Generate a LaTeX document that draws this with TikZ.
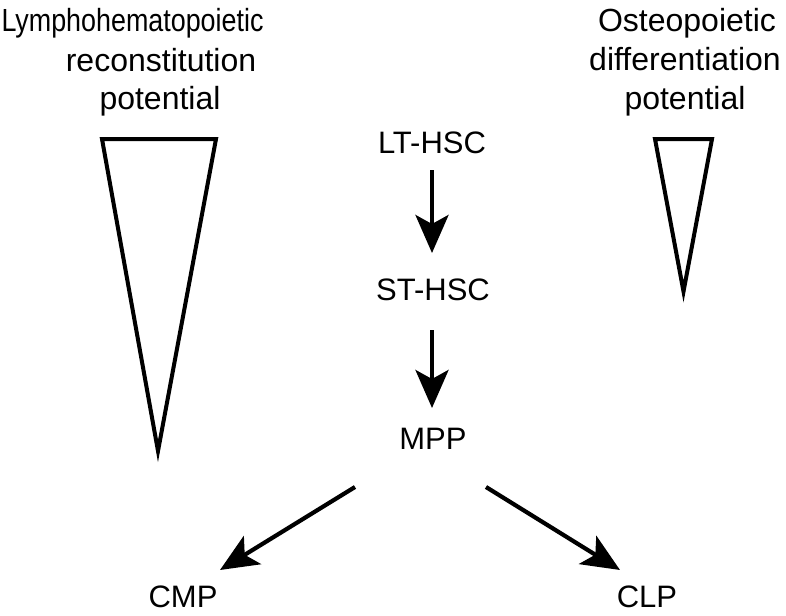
\documentclass[tikz,border=0pt]{standalone}
\usepackage{fontspec}
\setmainfont{Liberation Sans}
\usetikzlibrary{arrows.meta,calc}
\tikzset{
  lbl/.style={anchor=base,inner sep=0pt,font=\fontsize{31}{36}\selectfont},
  ttl/.style={anchor=base,inner sep=0pt,font=\fontsize{32}{38}\selectfont},
  arr/.style={line width=4.2pt,-{Stealth[length=38pt,width=33pt,inset=9pt]}},
  tri/.style={line width=4pt,line join=miter}
}
\begin{document}
\begin{tikzpicture}[x=1pt,y=-1pt]
\useasboundingbox (0,0) rectangle (786,615);
% titles
\node[ttl] (t1a) at (132.5,32) {\scalebox{0.84}[1]{Lymphohematopoietic}};
\node[ttl] (t1b) at (161,72) {reconstitution};
\node[ttl] (t1c) at (160,110) {potential};
\node[ttl] (t2a) at (687,32) {Osteopoietic};
\node[ttl] (t2b) at (685,71) {differentiation};
\node[ttl] (t2c) at (685,110) {potential};
% triangles
\draw[tri] (102,139) -- (216,139) -- (158,451) -- cycle;
\draw[tri] (655,139) -- (712,139) -- (683.5,291.5) -- cycle;
% cell labels
\node[lbl] (lt) at (432,153) {LT-HSC};
\node[lbl] (st) at (433,300) {ST-HSC};
\node[lbl] (mpp) at (433,449) {MPP};
\node[lbl] (cmp) at (183,607) {CMP};
\node[lbl] (clp) at (647,607) {CLP};
% arrows
\draw[arr] ($(lt.base)+(0,17)$) -- ($(st.base)+(-1,-47)$);
\draw[arr] ($(st.base)+(-1,30)$) -- ($(mpp.base)+(-1,-41)$);
\draw[arr] ($(mpp.base)+(-78,38)$) -- ($(cmp.base)+(37,-37)$);
\draw[arr] ($(mpp.base)+(53,38)$) -- ($(clp.base)+(-27,-37)$);
\end{tikzpicture}
\end{document}
